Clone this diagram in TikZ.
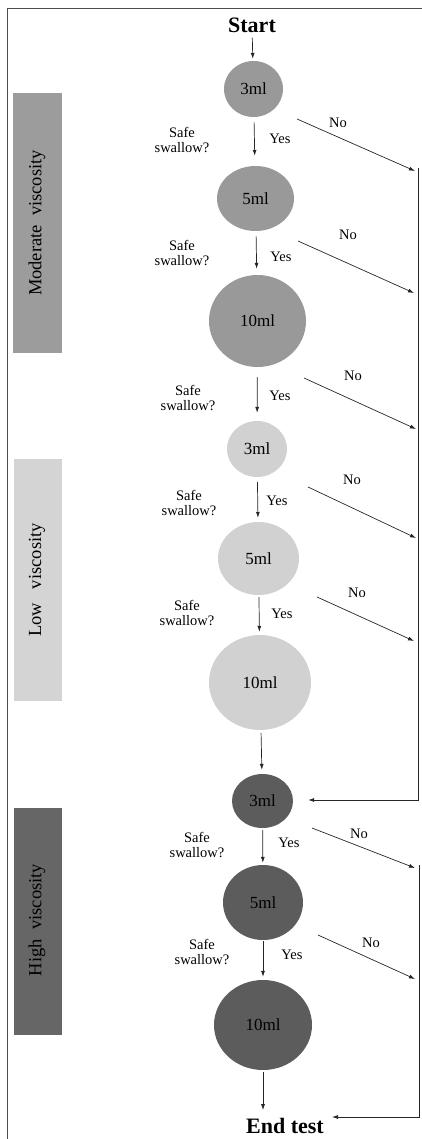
\documentclass[tikz,border=0pt]{standalone}
\usepackage{fontspec}
\setmainfont{Liberation Serif}
\usetikzlibrary{shapes.geometric,arrows.meta}
\definecolor{modc}{gray}{0.60}
\definecolor{lowc}{gray}{0.82}
\definecolor{highc}{gray}{0.36}
\definecolor{modbar}{gray}{0.61}
\definecolor{lowbar}{gray}{0.83}
\definecolor{highbar}{gray}{0.40}
\tikzset{
  dose/.style={ellipse, inner sep=0pt, draw=none, font=\fontsize{17}{17}\selectfont},
  arr/.style={line width=0.7pt, draw=black!85, -{Latex[length=6pt,width=4pt]}},
  plain/.style={line width=0.7pt, draw=black!85},
  lbl/.style={font=\fontsize{14.5}{15}\selectfont, align=center, inner sep=0pt},
  ttl/.style={font=\bfseries\fontsize{22}{22}\selectfont, inner sep=0pt},
  bar/.style={draw=none, inner sep=0pt},
  barlbl/.style={rotate=90, font=\fontsize{18.5}{18.5}\selectfont, inner sep=0pt}
}
\begin{document}
\begin{tikzpicture}[x=1pt,y=-1pt]
\useasboundingbox (0,0) rectangle (422,1139);
\draw[line width=0.8pt, draw=black!70] (7,1141) -- (7,8) -- (424,8);
% side bars
\fill[modbar] (13,93) rectangle (62,353);
\fill[lowbar] (14,459) rectangle (62,701);
\fill[highbar] (14,808) rectangle (62,1035);
\node[barlbl] (bm) at (37,223) {Moderate\ \ viscosity};
\node[barlbl] (bl) at (37,580) {Low\ \ \ viscosity};
\node[barlbl] (bh) at (37,920) {High\ \ viscosity};
% titles
\node[ttl] (start) at (252,25) {Start};
\node[ttl] (endtest) at (285,1126) {End test};
% circles
\node[dose, fill=modc, minimum width=59pt, minimum height=56pt] (c1) at (253.5,89) {3ml};
\node[dose, fill=modc, minimum width=77pt, minimum height=65pt] (c2) at (255.5,198.5) {5ml};
\node[dose, fill=modc, minimum width=97pt, minimum height=92pt] (c3) at (257.5,321) {10ml};
\node[dose, fill=lowc, minimum width=60pt, minimum height=56pt] (c4) at (257,449) {3ml};
\node[dose, fill=lowc, minimum width=81pt, minimum height=73pt] (c5) at (258.5,558.5) {5ml};
\node[dose, fill=lowc, minimum width=102pt, minimum height=95pt] (c6) at (260,682.5) {10ml};
\node[dose, fill=highc, minimum width=61pt, minimum height=54pt] (c7) at (262.5,801) {3ml};
\node[dose, fill=highc, minimum width=80pt, minimum height=75pt] (c8) at (263,902.5) {5ml};
\node[dose, fill=highc, minimum width=98pt, minimum height=90pt] (c9) at (263,1025) {10ml};
% vertical arrows
\draw[arr, shorten <=5pt, shorten >=2pt] (start) -- (c1);
\draw[arr, shorten <=5pt, shorten >=10pt] (c1) -- (c2);
\draw[arr, shorten <=5pt, shorten >=6pt] (c2) -- (c3);
\draw[arr, shorten <=10pt, shorten >=8pt] (c3) -- (c4);
\draw[arr, shorten <=5pt, shorten >=4pt] (c4) -- (c5);
\draw[arr, shorten <=2pt, shorten >=3pt] (c5) -- (c6);
\draw[arr, shorten <=3pt, shorten >=4pt] (c6) -- (c7);
\draw[arr, shorten <=2pt, shorten >=2pt] (c7) -- (c8);
\draw[arr, shorten <=1pt, shorten >=3pt] (c8) -- (c9);
\draw[arr, shorten <=2pt, shorten >=8pt] (c9) -- (c9 |- endtest.north);
% labels
\node[lbl] (q1) at (182,140) {Safe\\swallow?};
\node[lbl] (q2) at (182,253) {Safe\\swallow?};
\node[lbl] (q3) at (188,398) {Safe\\swallow?};
\node[lbl] (q4) at (189,503) {Safe\\swallow?};
\node[lbl] (q5) at (187,613) {Safe\\swallow?};
\node[lbl] (q6) at (197,845) {Safe\\swallow?};
\node[lbl] (q7) at (202,952) {Safe\\swallow?};
\node[lbl] (y1) at (280,139) {Yes};
\node[lbl] (y2) at (281,257) {Yes};
\node[lbl] (y3) at (280,396) {Yes};
\node[lbl] (y4) at (277,501) {Yes};
\node[lbl] (y5) at (282,614) {Yes};
\node[lbl] (y6) at (289,843) {Yes};
\node[lbl] (y7) at (292,955) {Yes};
\node[lbl] (n1) at (338,123) {No};
\node[lbl] (n2) at (348,235) {No};
\node[lbl] (n3) at (353,376) {No};
\node[lbl] (n4) at (352,480) {No};
\node[lbl] (n5) at (357,593) {No};
\node[lbl] (n6) at (359,834) {No};
\node[lbl] (n7) at (371,943) {No};
% No connectors
\coordinate (s1) at (297,119); \coordinate (e1) at (415,171);
\coordinate (s2) at (298,241); \coordinate (e2) at (414,293);
\coordinate (s3) at (304,378); \coordinate (e3) at (416,429);
\coordinate (s4) at (308,487); \coordinate (e4) at (416,538);
\coordinate (s5) at (317,597); \coordinate (e5) at (414,641);
\coordinate (s6) at (312,828); \coordinate (e6) at (415,868);
\coordinate (s7) at (318,935); \coordinate (e7) at (415,979);
\foreach \i in {1,...,7} {\draw[arr] (s\i) -- (e\i);}
% right collectors
\coordinate (v1t) at (418,168); \coordinate (v1b) at (418,800);
\draw[arr, shorten >=15pt] (v1t) -- (v1b) -- (v1b -| c7.east);
\coordinate (v2t) at (419,865); \coordinate (v2b) at (419,1117);
\coordinate (endin) at (332,1117);
\draw[arr] (v2t) -- (v2b) -- (endin);
\end{tikzpicture}
\end{document}
